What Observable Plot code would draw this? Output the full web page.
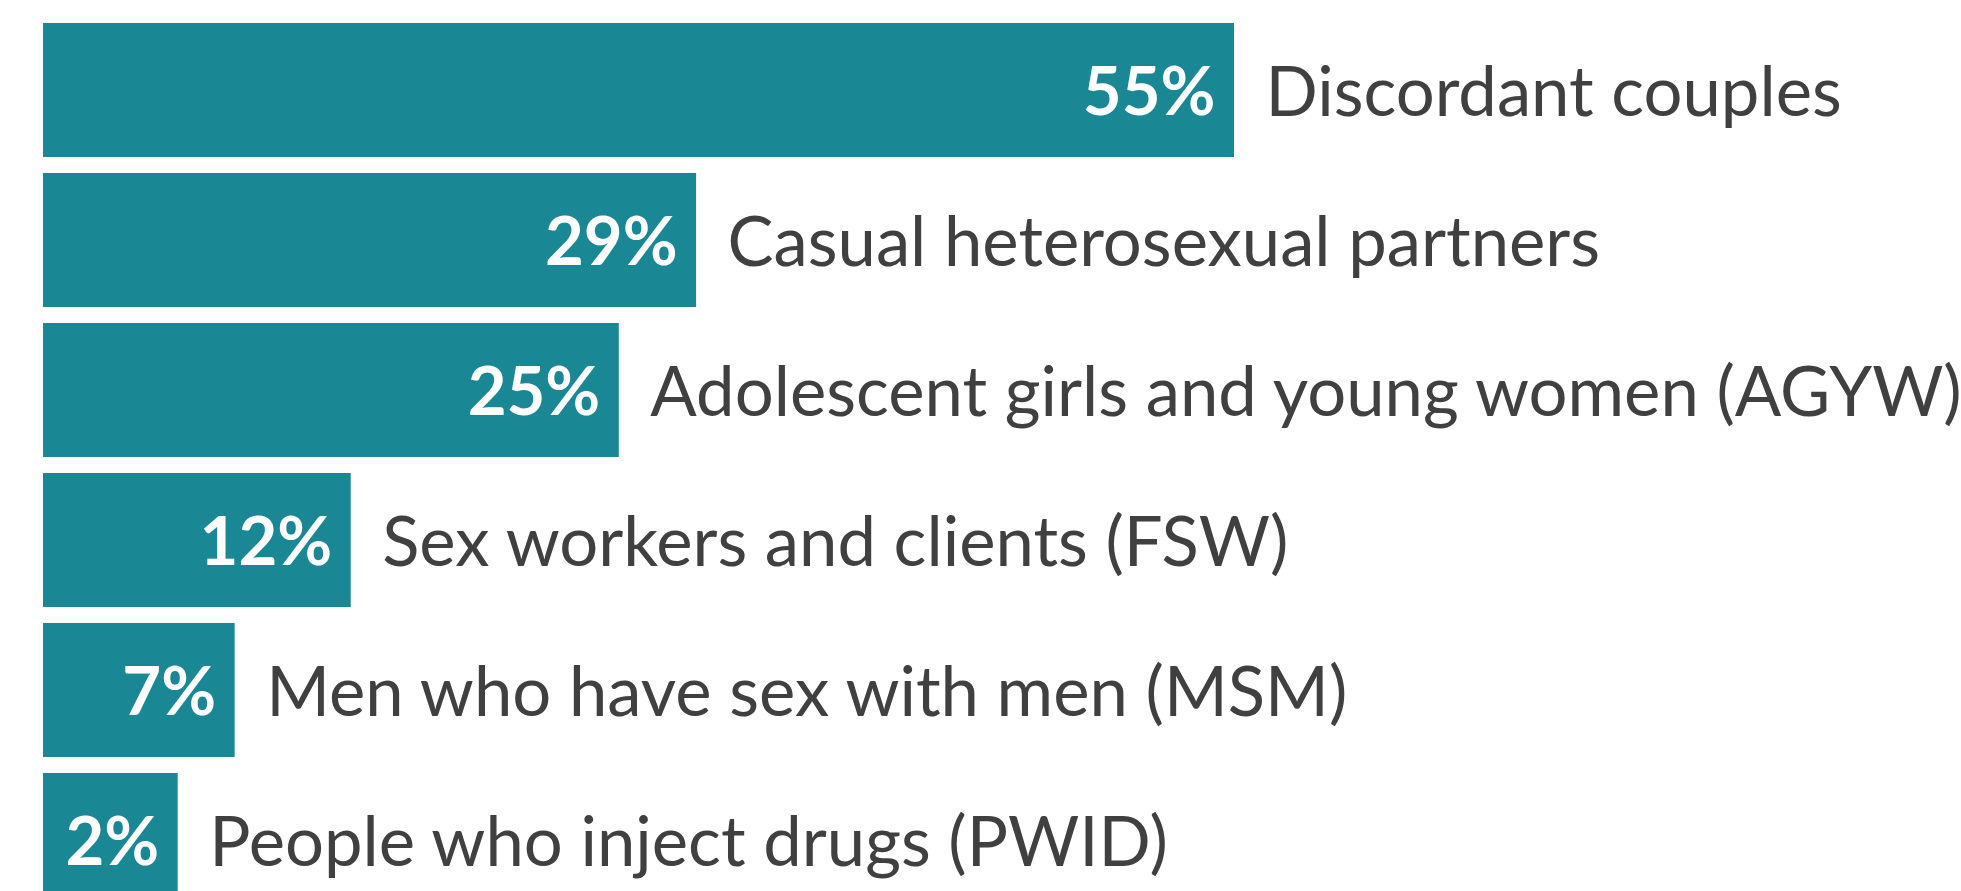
<!DOCTYPE html>
<html>
<head>
<meta charset="utf-8">
<script src="https://cdn.jsdelivr.net/npm/d3@7"></script>
<script src="https://cdn.jsdelivr.net/npm/@observablehq/plot@0.6"></script>
<style>
  html, body { margin: 0; padding: 0; background: #ffffff; overflow: hidden; }
  #chart svg { display: block; }
</style>
</head>
<body>
<div id="chart"></div>
<script>
// Categories (top to bottom)
const categories = [
  "Discordant couples",
  "Casual heterosexual partners",
  "Adolescent girls and young women (AGYW)",
  "Sex workers and clients (FSW)",
  "Men who have sex with men (MSM)",
  "People who inject drugs (PWID)"
];
// Share labels printed on the bars (%)
const shares = [55, 29, 25, 12, 7, 2];
// Bar lengths as drawn in the picture (same % units, bars are not strictly proportional)
const barValues = [55, 30.16, 26.59, 14.21, 8.85, 6.22];

const data = categories.map((c, i) => ({
  category: c,
  share: shares[i],
  bar: barValues[i]
}));

const FONT = "Lato, 'Open Sans', sans-serif";

const chart = Plot.plot({
  width: 1961,
  height: 891,
  marginLeft: 43,
  marginRight: 727,
  marginTop: 0,
  marginBottom: 0,
  style: { fontFamily: FONT, background: "#ffffff", overflow: "visible" },
  x: { domain: [0, 55], axis: null },
  y: { domain: categories, range: [13.2, 916.8], paddingInner: 0.1036, paddingOuter: 0.0518, axis: null },
  marks: [
    Plot.barX(data, { x: "bar", y: "category", fill: "#1a8894" }),
    Plot.text(data, {
      x: "bar", y: "category", text: d => d.share + "%",
      textAnchor: "end", dx: -19, dy: 3.5,
      fill: "#ffffff", fontWeight: "bold", fontSize: 67, fontFamily: FONT
    }),
    Plot.text(data, {
      x: "bar", y: "category", text: "category",
      textAnchor: "start", dx: 31, dy: 3.5,
      fill: "#404040", fontSize: 68.8, fontFamily: FONT
    })
  ]
});
document.getElementById("chart").appendChild(chart);
</script>
</body>
</html>
